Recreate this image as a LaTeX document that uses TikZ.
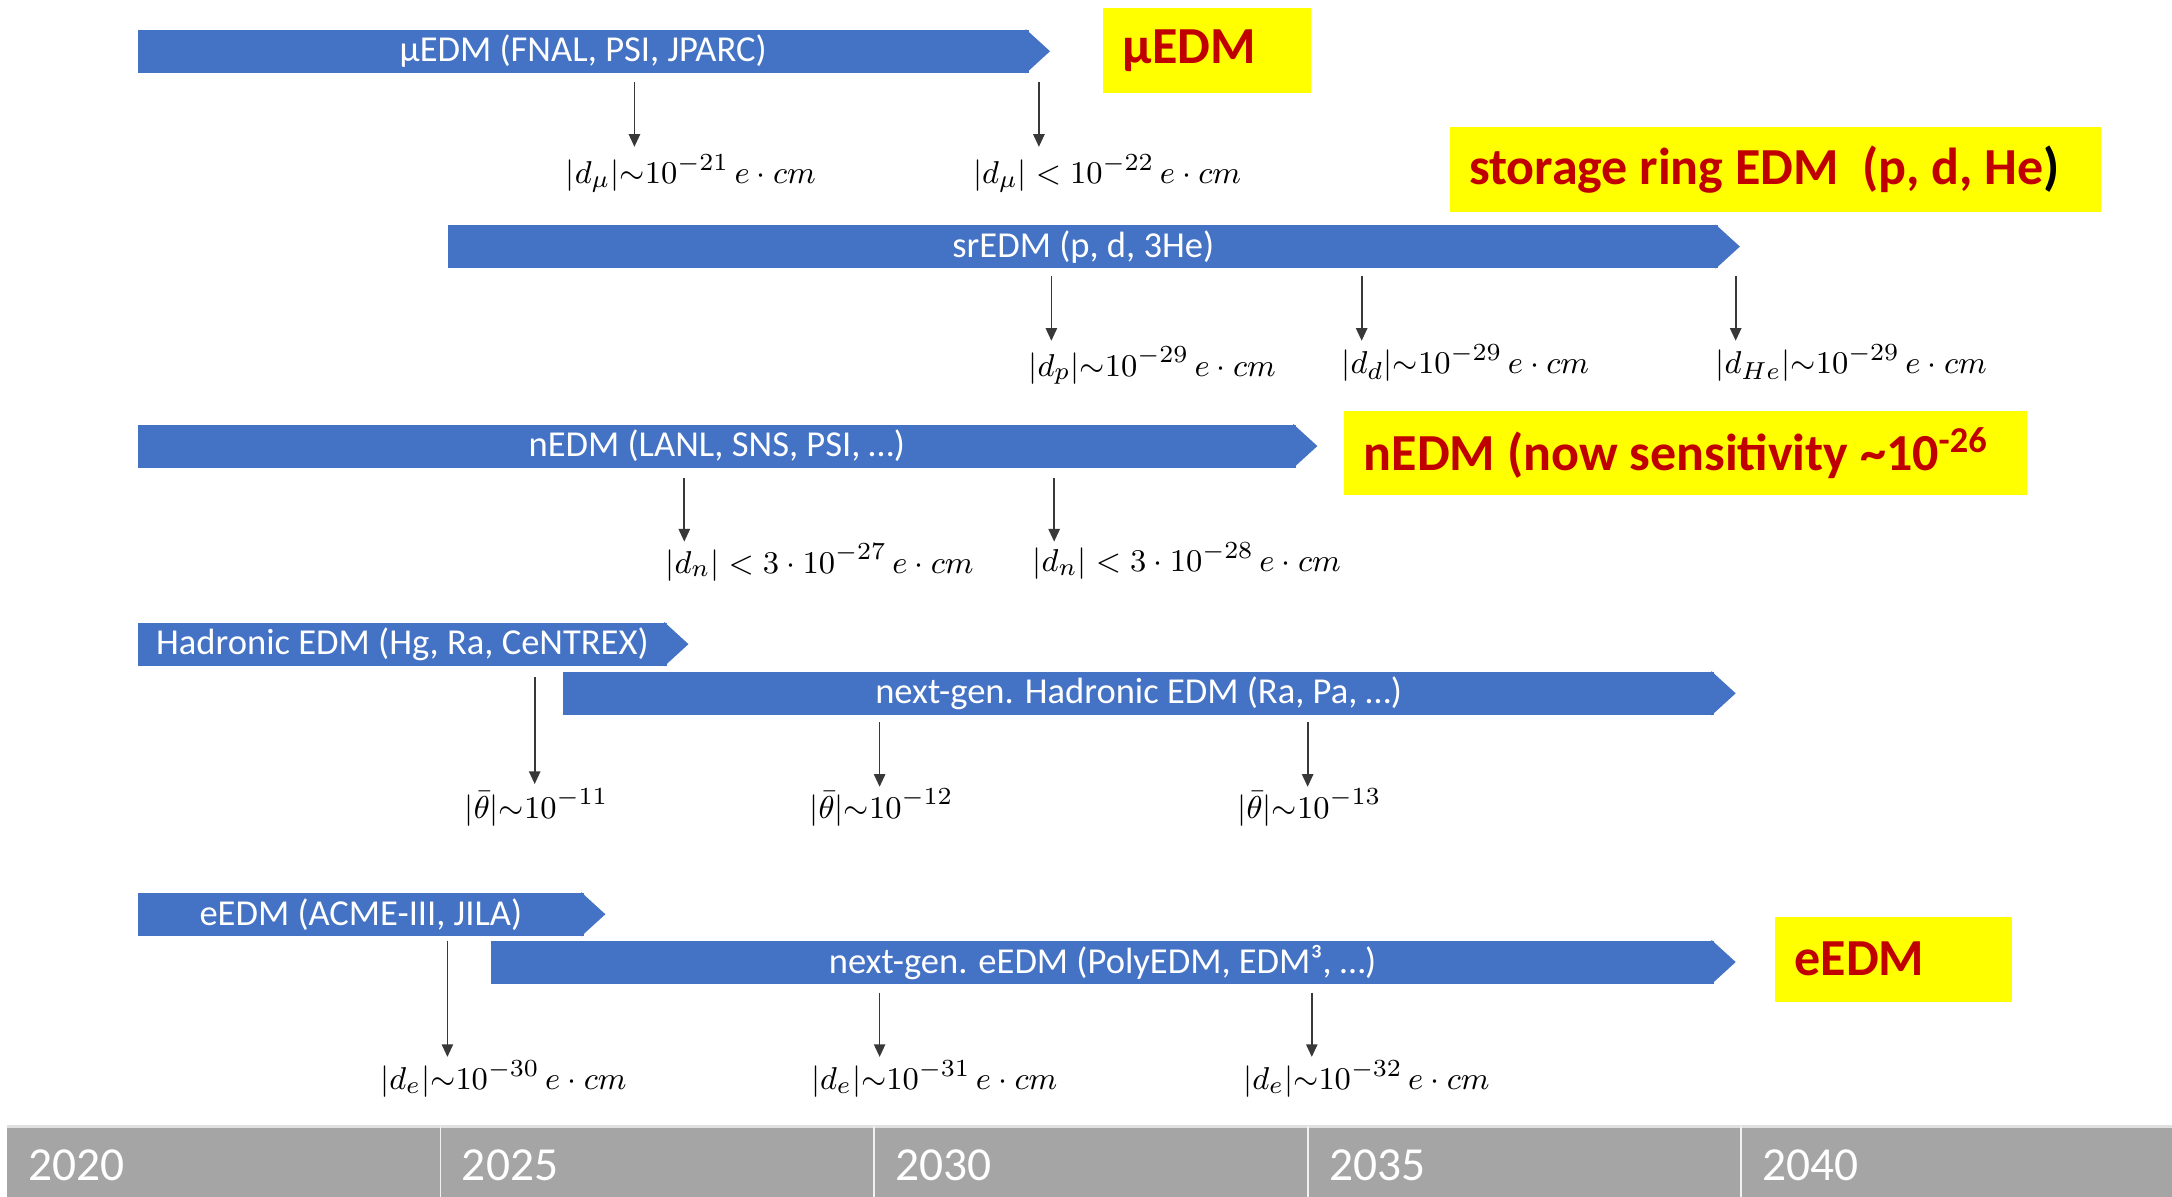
\documentclass[tikz,border=0pt]{standalone}
\usepackage[no-math]{fontspec}
\setmainfont{Carlito}
\usetikzlibrary{arrows.meta}
\newdimen\Uu \Uu=0.013852cm
\definecolor{barblue}{HTML}{4472C4}
\definecolor{hlyellow}{HTML}{FFFF00}
\definecolor{hlred}{HTML}{C00000}
\definecolor{yeargray}{HTML}{A5A5A5}
\definecolor{arrowgray}{HTML}{383838}
\newcommand\bartip[1]{\fill[barblue] ([xshift=-1pt]#1.north east) -- ([xshift=15\Uu]#1.east) -- ([xshift=-1pt]#1.south east) -- cycle;}
\tikzset{
 bar/.style={fill=barblue, text=white, font=\fontsize{10.4}{12}\selectfont, minimum height=31\Uu, inner sep=0pt, anchor=west},
 hlbox/.style={fill=hlyellow, text=hlred, font=\fontsize{14.8}{17}\selectfont\bfseries, minimum height=61\Uu, inner xsep=14\Uu, inner ysep=0pt, anchor=west},
 lbl/.style={font=\fontsize{9.5}{11}\selectfont, inner sep=0pt, anchor=west, text=black},
 arr/.style={draw=arrowgray, line width=0.5pt, -{Triangle[length=3.6pt,width=3.2pt]}},
 yr/.style={text=white, font=\fontsize{13.5}{16}\selectfont, inner sep=0pt, anchor=west},
}
\begin{document}
\begin{tikzpicture}[x=0.013852cm,y=-0.013852cm]
\useasboundingbox (0,0) rectangle (1568,864);
% ---- bars
\node[bar, minimum width=643\Uu] (mubar) at (99,37) {μEDM (FNAL, PSI, JPARC)}; \bartip{mubar}
\node[bar, minimum width=917\Uu] (srbar) at (323,178) {srEDM (p, d, 3He)}; \bartip{srbar}
\node[bar, minimum width=836\Uu] (nbar) at (99,322) {nEDM (LANL, SNS, PSI, …)}; \bartip{nbar}
\node[bar, minimum width=382\Uu] (hbar) at (99,465) {Hadronic EDM (Hg, Ra, CeNTREX)}; \bartip{hbar}
\node[bar, minimum width=831\Uu] (nghbar) at (406,500.5) {next-gen. Hadronic EDM (Ra, Pa, …)}; \bartip{nghbar}
\node[bar, minimum width=322\Uu] (ebar) at (99,660) {eEDM (ACME-III, JILA)}; \bartip{ebar}
\node[bar, minimum width=883\Uu] (ngebar) at (354,694.5) {next-gen. eEDM (PolyEDM, EDM³, …)}; \bartip{ngebar}
% ---- highlight boxes
\node[hlbox] (hlmu) at (796,36.5) {\makebox[122\Uu][l]{μEDM}};
\node[hlbox] (hlsr) at (1046,122.5) {\makebox[442\Uu][l]{storage ring EDM\ \ (p, d, He\textcolor{black}{)}}};
\node[hlbox] (hln) at (970,327) {\makebox[465\Uu][l]{nEDM (now sensitivity \textasciitilde 10\textsuperscript{-26}}};
\node[hlbox] (hle) at (1281,692.5) {\makebox[143\Uu][l]{eEDM}};
% ---- labels
\node[lbl] (l1) at (408,125) {$|d_\mu|{\sim}10^{-21}\,e\cdot cm$};
\node[lbl] (l2) at (702,125) {$|d_\mu|<10^{-22}\,e\cdot cm$};
\node[lbl] (l3) at (742,264) {$|d_p|{\sim}10^{-29}\,e\cdot cm$};
\node[lbl] (l4) at (968,262) {$|d_d|{\sim}10^{-29}\,e\cdot cm$};
\node[lbl] (l5) at (1238,262) {$|d_{He}|{\sim}10^{-29}\,e\cdot cm$};
\node[lbl] (l6) at (480,406) {$|d_n|<3\cdot10^{-27}\,e\cdot cm$};
\node[lbl] (l7) at (745,405) {$|d_n|<3\cdot10^{-28}\,e\cdot cm$};
\node[lbl] (l8) at (335,583) {$|\bar\theta|{\sim}10^{-11}$};
\node[lbl] (l9) at (584,583) {$|\bar\theta|{\sim}10^{-12}$};
\node[lbl] (l10) at (893,583) {$|\bar\theta|{\sim}10^{-13}$};
\node[lbl] (l11) at (274,779) {$|d_e|{\sim}10^{-30}\,e\cdot cm$};
\node[lbl] (l12) at (585,779) {$|d_e|{\sim}10^{-31}\,e\cdot cm$};
\node[lbl] (l13) at (897,779) {$|d_e|{\sim}10^{-32}\,e\cdot cm$};
% ---- arrow tips
\coordinate (a1) at (458,106);
\coordinate (a2) at (750,106);
\coordinate (a3) at (759,246);
\coordinate (a4) at (983,246);
\coordinate (a5) at (1253,246);
\coordinate (a6) at (494,391);
\coordinate (a7) at (761,391);
\coordinate (a8) at (386,566);
\coordinate (a9) at (635,568);
\coordinate (a10) at (944,568);
\coordinate (a11) at (323,763);
\coordinate (a12) at (635,763);
\coordinate (a13) at (947,763);
\draw[arr] (a1 |- mubar.south) ++(0,6) -- (a1);
\draw[arr] (a2 |- mubar.south) ++(0,6) -- (a2);
\draw[arr] (a3 |- srbar.south) ++(0,5) -- (a3);
\draw[arr] (a4 |- srbar.south) ++(0,5) -- (a4);
\draw[arr] (a5 |- srbar.south) ++(0,5) -- (a5);
\draw[arr] (a6 |- nbar.south) ++(0,7) -- (a6);
\draw[arr] (a7 |- nbar.south) ++(0,7) -- (a7);
\draw[arr] (a8 |- hbar.south) ++(0,8) -- (a8);
\draw[arr] (a9 |- nghbar.south) ++(0,5) -- (a9);
\draw[arr] (a10 |- nghbar.south) ++(0,5) -- (a10);
\draw[arr] (a11 |- ebar.south) ++(0,3) -- (a11);
\draw[arr] (a12 |- ngebar.south) ++(0,6) -- (a12);
\draw[arr] (a13 |- ngebar.south) ++(0,6) -- (a13);
% ---- year axis
\fill[yeargray] (5,813) rectangle (1568,864);
\draw[black!12, line width=0.8pt] (5,813.5) -- (1568,813.5);
\foreach \xx in {318,631,944,1257} \draw[white!85!yeargray, line width=0.5pt] (\xx,813) -- (\xx,864);
\node[yr] (y2020) at (20,841) {2020};
\node[yr] (y2025) at (333,841) {2025};
\node[yr] (y2030) at (646,841) {2030};
\node[yr] (y2035) at (959,841) {2035};
\node[yr] (y2040) at (1272,841) {2040};
\end{tikzpicture}
\end{document}
